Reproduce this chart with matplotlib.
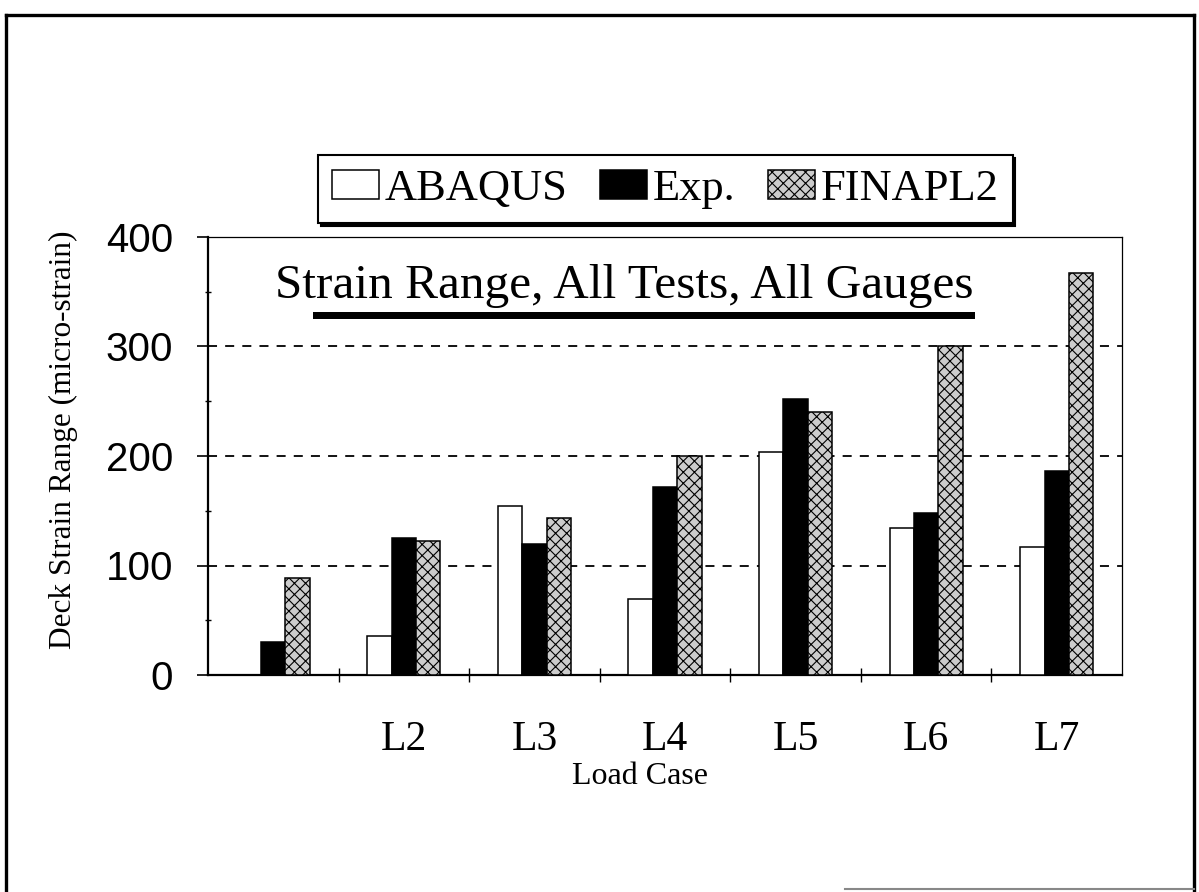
import matplotlib
matplotlib.use("Agg")
import matplotlib.pyplot as plt
from matplotlib.lines import Line2D
from matplotlib.patches import Rectangle
from matplotlib.ticker import MultipleLocator, FixedLocator
from matplotlib.font_manager import FontProperties
import numpy as np

# ---- data -------------------------------------------------------------
load_cases = ["", "L2", "L3", "L4", "L5", "L6", "L7"]
abaqus = [0, 36, 154, 69, 204, 134, 117]
experiment = [30, 125, 120, 172, 252, 148, 186]
finapl2 = [89, 122, 143, 200, 240, 300, 367]
series_names = ["ABAQUS", "Exp.", "FINAPL2"]
y_ticks = [0, 100, 200, 300, 400]

# ---- figure setup -----------------------------------------------------
W, H = 1199, 892
plt.rcParams["hatch.linewidth"] = 0.8
fig = plt.figure(figsize=(W / 100, H / 100), dpi=100)
fig.patch.set_facecolor("white")

def fx(px):
    return px / W

def fy(py):
    return 1 - py / H

serif = "Liberation Serif"
sans = "Liberation Sans"

ax = fig.add_axes([fx(208), fy(675), fx(1122) - fx(208), fy(237) - fy(675)])

x = np.arange(len(load_cases))
bw = 0.187
b1 = ax.bar(x - bw, abaqus, bw, color="white", edgecolor="black", linewidth=1.1,
            label=series_names[0], zorder=3)
b2 = ax.bar(x, experiment, bw, color="black", edgecolor="black", linewidth=1.1,
            label=series_names[1], zorder=3)
b3 = ax.bar(x + bw, finapl2, bw, color="#cccccc", edgecolor="black", linewidth=1.1,
            hatch="xxx", label=series_names[2], zorder=3)

ax.set_xlim(-0.5, len(load_cases) - 0.5)
ax.set_ylim(0, 400)

# gridlines
for v in y_ticks[1:-1]:
    ax.axhline(v, color="black", lw=1.3, ls=(0, (5, 4.5)), zorder=1)

# spines
for side in ("left", "bottom"):
    ax.spines[side].set_linewidth(1.6)
for side in ("top", "right"):
    ax.spines[side].set_linewidth(0.9)

# y ticks
ax.yaxis.set_major_locator(FixedLocator(y_ticks))
ax.yaxis.set_minor_locator(MultipleLocator(50))
ax.tick_params(axis="y", which="major", direction="out", length=8, width=1.2,
               pad=17, labelsize=29)
ax.tick_params(axis="y", which="minor", direction="inout", length=5, width=1.0)
for lab in ax.get_yticklabels():
    lab.set_fontfamily(sans)

# x ticks: labels at centres, tick marks at group boundaries
ax.set_xticks(x)
ax.set_xticklabels(load_cases, fontfamily=serif, fontsize=30)
ax.xaxis.set_minor_locator(FixedLocator(np.arange(0.5, len(load_cases) - 1, 1.0)))
ax.tick_params(axis="x", which="major", length=0, pad=33)
ax.tick_params(axis="x", which="minor", direction="inout", length=10, width=1.0)

# axis titles
fig.text(fx(63), fy(440), "Deck Strain Range (micro-strain)", rotation=90,
         ha="center", va="center", fontfamily=serif, fontsize=22.5)
fig.text(fx(640), fy(776), "Load Case", ha="center", va="center",
         fontfamily=serif, fontsize=23)

# chart title with its heavy underline
fig.text(fx(624), fy(298), "Strain Range, All Tests, All Gauges", ha="center",
         va="baseline", fontfamily=serif, fontsize=35.5)
fig.add_artist(Rectangle((fx(313), fy(319)), fx(975) - fx(313), fy(312) - fy(319),
                         transform=fig.transFigure, facecolor="black",
                         edgecolor="none"))

# legend box with a drop shadow
leg = ax.legend(handles=[b1, b2, b3], labels=series_names, ncol=3,
                loc="upper left", bbox_to_anchor=(fx(318), fy(155)),
                bbox_transform=fig.transFigure, frameon=True, fancybox=False,
                edgecolor="black", framealpha=1, borderpad=0.32,
                handlelength=1.05, handleheight=0.62, handletextpad=0.12,
                columnspacing=0.75, borderaxespad=0,
                prop=FontProperties(family=serif, size=32),
                shadow={"color": "black", "alpha": 1})
leg.get_frame().set_linewidth(1.5)

# page frame
frame_kw = dict(transform=fig.transFigure, color="black", lw=2.4)
fig.add_artist(Line2D([fx(6), fx(6)], [fy(15), fy(892)], **frame_kw))
fig.add_artist(Line2D([fx(1194), fx(1194)], [fy(15), fy(892)], **frame_kw))
fig.add_artist(Line2D([fx(6), fx(1194)], [fy(15), fy(15)], **frame_kw))
fig.add_artist(Line2D([fx(845), fx(1194)], [fy(889), fy(889)],
                      transform=fig.transFigure, color="#888888", lw=1.5))

fig.savefig("out.png", dpi=100, facecolor="white")
